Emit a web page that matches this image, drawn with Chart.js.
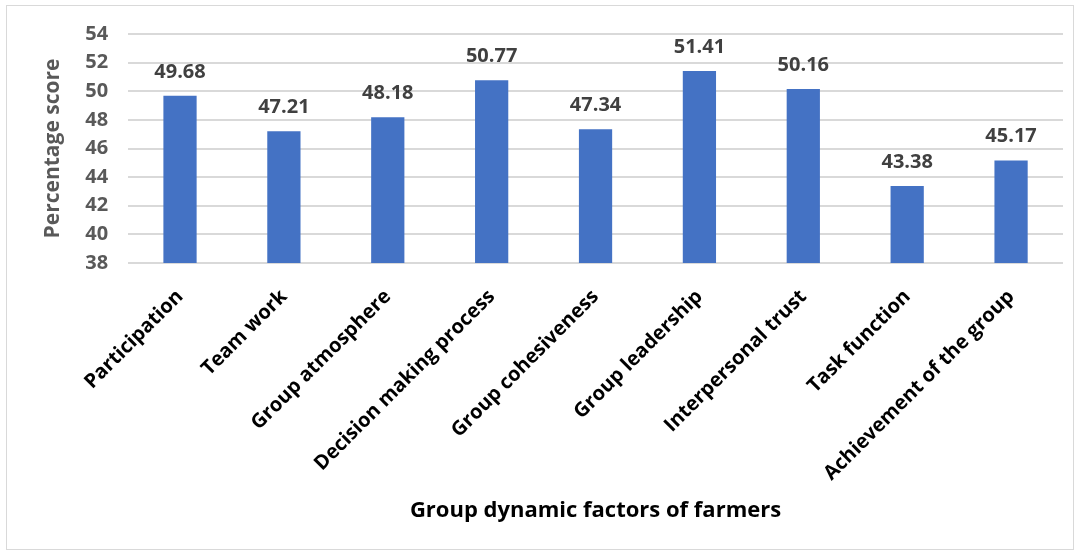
<!DOCTYPE html>
<html>
<head>
<meta charset="utf-8">
<script src="https://cdn.jsdelivr.net/npm/chart.js@4/dist/chart.umd.min.js"></script>
<style>
  html, body { margin: 0; padding: 0; background: #fff; }
  #wrap { position: absolute; left: 6px; top: 5px; width: 1068px; height: 545px; border: 1px solid #d9d9d9; box-sizing: border-box; }
  #c { position: absolute; left: 0; top: 0; }
</style>
</head>
<body>
<div id="wrap"><canvas id="c" width="1066" height="543"></canvas></div>
<script>
const categories = ["Participation", "Team work", "Group atmosphere", "Decision making process", "Group cohesiveness", "Group leadership", "Interpersonal trust", "Task function", "Achievement of the group"];
const scores = [49.68, 47.21, 48.18, 50.77, 47.34, 51.41, 50.16, 43.38, 45.17];
const yTicks = [38, 40, 42, 44, 46, 48, 50, 52, 54];

const FONT = "'Open Sans', sans-serif";

const valueLabels = {
  id: 'valueLabels',
  afterDatasetsDraw(chart) {
    const ctx = chart.ctx;
    const meta = chart.getDatasetMeta(0);
    ctx.save();
    ctx.font = "bold 20px " + FONT;
    ctx.fillStyle = "#404040";
    ctx.textAlign = "center";
    ctx.textBaseline = "alphabetic";
    meta.data.forEach((bar, i) => {
      ctx.fillText(scores[i].toFixed(2), bar.x, bar.y - 18);
    });
    ctx.restore();
  }
};

new Chart(document.getElementById('c'), {
  type: 'bar',
  data: {
    labels: categories,
    datasets: [{
      data: scores,
      backgroundColor: '#4472c4',
      borderWidth: 0,
      barPercentage: 0.64,
      categoryPercentage: 0.5
    }]
  },
  options: {
    responsive: false,
    animation: false,
    events: [],
    layout: { padding: { left: 33, right: 10, top: 28, bottom: 0 } },
    plugins: { legend: { display: false }, tooltip: { enabled: false } },
    scales: {
      x: {
        afterFit(scale) { scale.height = 286; },
        grid: { display: false, drawTicks: false },
        border: { display: false },
        ticks: {
          color: '#000',
          font: { family: FONT, size: 20, weight: 'bold' },
          maxRotation: 45, minRotation: 45, padding: 22, autoSkip: false
        },
        title: {
          display: true,
          text: 'Group dynamic factors of farmers',
          color: '#000',
          font: { family: FONT, size: 22, weight: 'bold' },
          padding: { top: 4, bottom: 25 }
        }
      },
      y: {
        min: 38, max: 54,
        afterBuildTicks(axis) { axis.ticks = yTicks.map(v => ({ value: v })); },
        afterFit(scale) { scale.paddingTop = 0; scale.paddingBottom = 0; },
        grid: { color: '#d9d9d9', lineWidth: 2, drawTicks: false },
        border: { display: false },
        ticks: {
          color: '#595959',
          font: { family: FONT, size: 20, weight: 'bold' },
          padding: 20
        },
        title: {
          display: true,
          text: 'Percentage score',
          color: '#595959',
          font: { family: FONT, size: 21, weight: 'bold' },
          padding: { top: 0, bottom: 0 }
        }
      }
    }
  },
  plugins: [valueLabels]
});
</script>
</body>
</html>
